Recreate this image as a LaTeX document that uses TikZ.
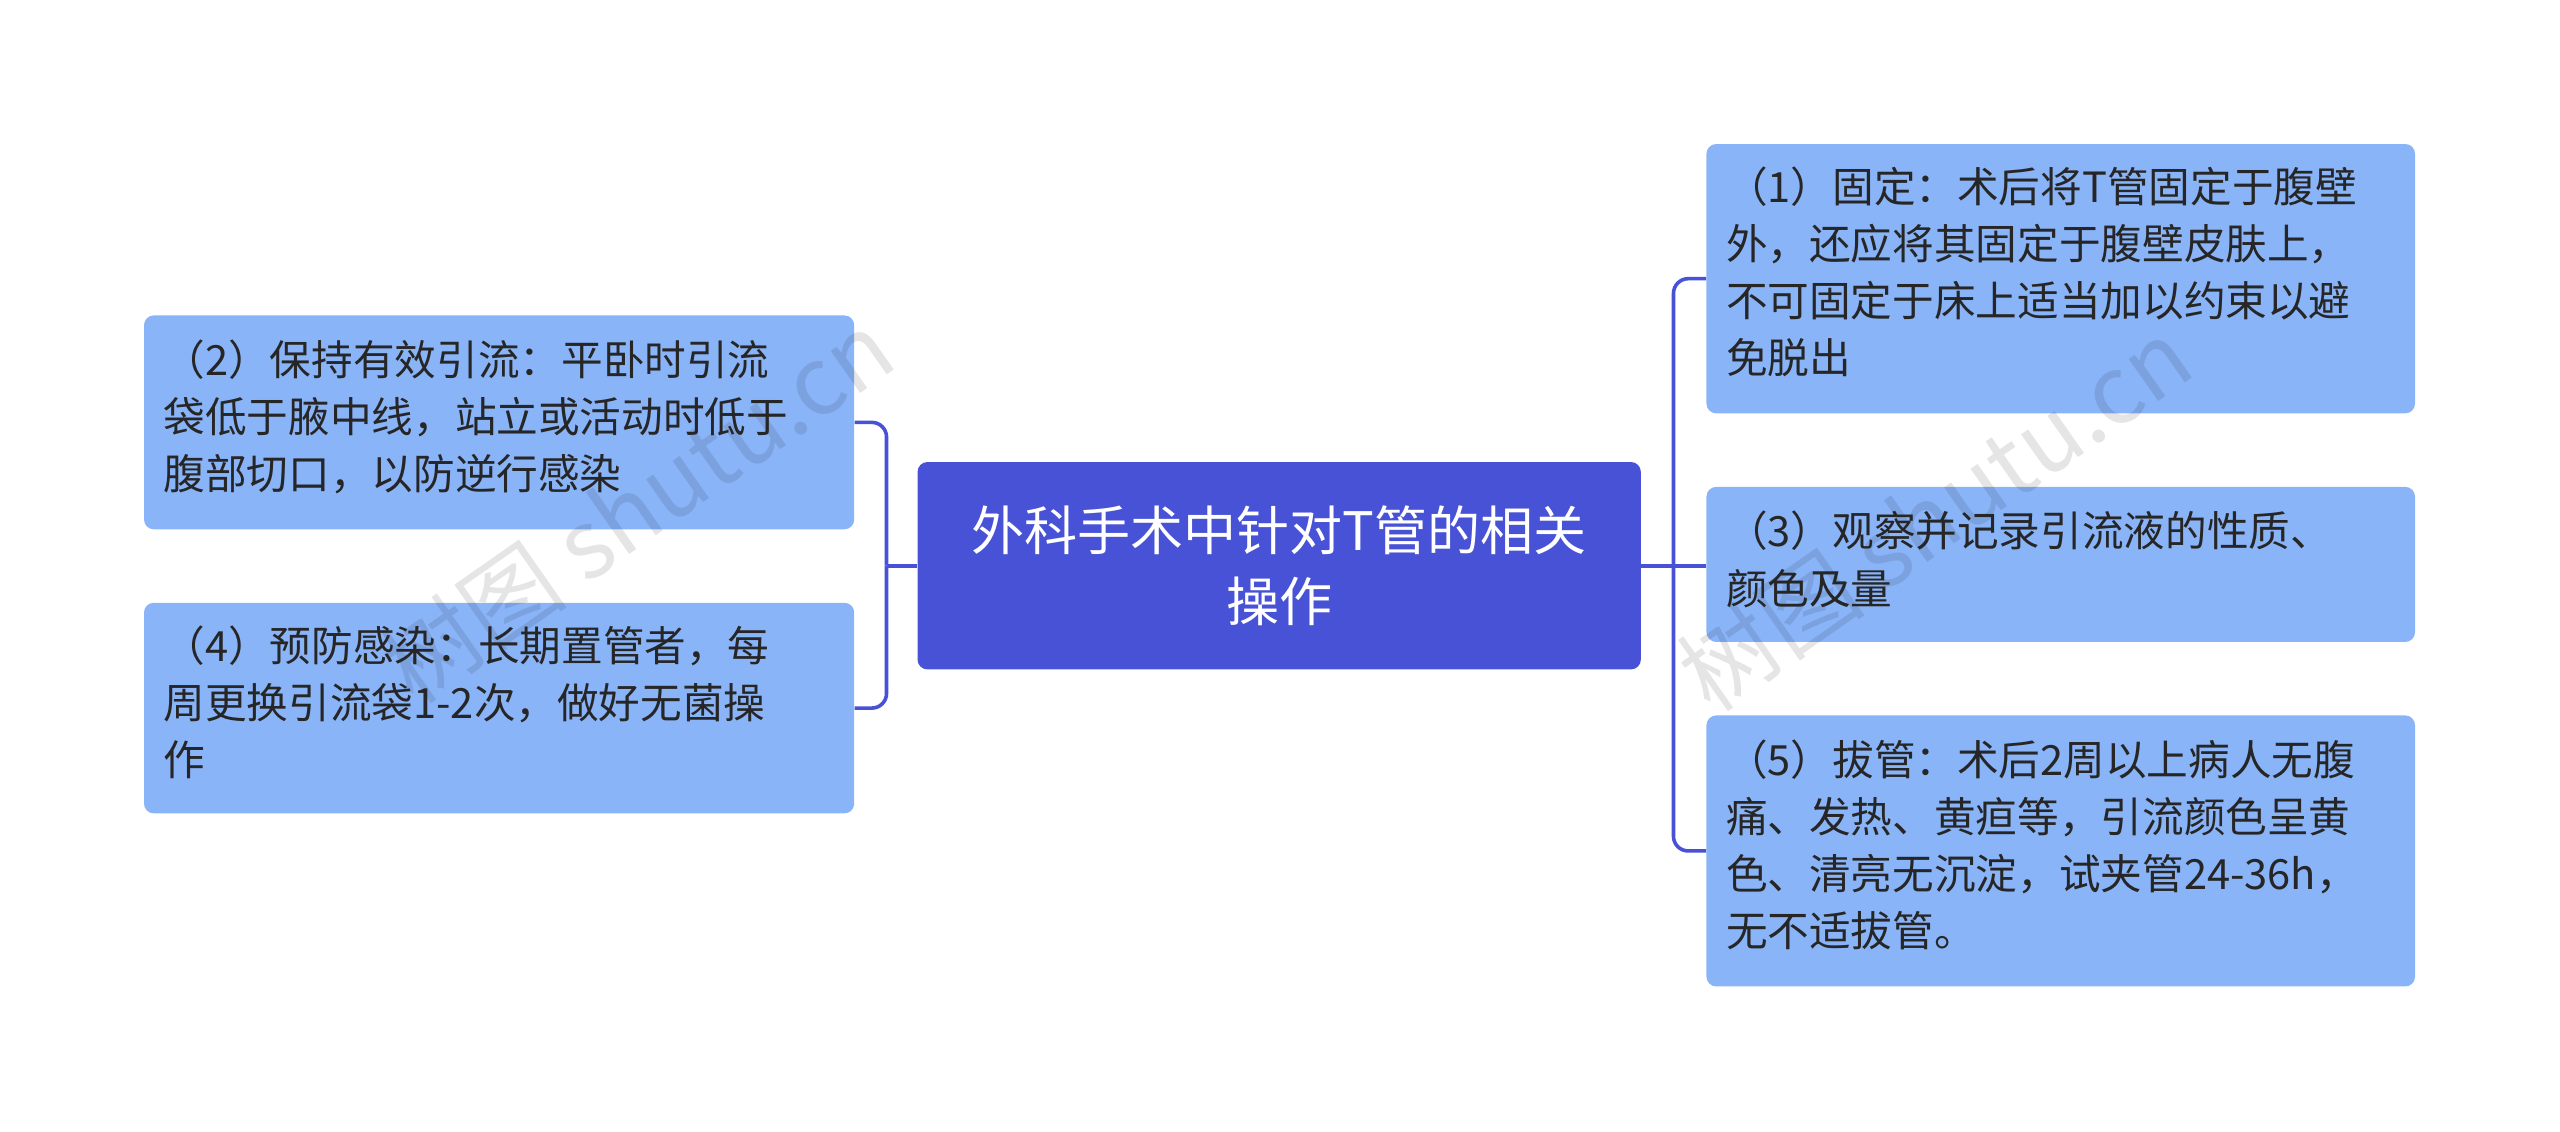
\documentclass[tikz,border=0pt]{standalone}
\usepackage{fontspec}
\setmainfont{Noto Sans CJK SC}
\newfontfamily\wmfont{Noto Sans CJK SC}
\begin{document}
\begin{tikzpicture}[x=1pt,y=-1pt,
  leaf/.style={draw=none,fill=leafc,rounded corners=6pt,anchor=north west,inner sep=0pt},
  ltext/.style={anchor=north west,align=left,font=\fontsize{25.5}{35}\selectfont,text=black!85,inner sep=0pt,text width=428pt},
  conn/.style={draw=mainc,line width=2.2pt,rounded corners=9pt}]
\definecolor{mainc}{HTML}{4752D6}
\definecolor{leafc}{HTML}{8AB4F8}
\useasboundingbox (0,0) rectangle (1568,693);
\node[leaf,minimum width=435pt,minimum height=131pt] (l1) at (88,193) {};
\node[leaf,minimum width=435pt,minimum height=129pt] (l2) at (88,369) {};
\node[leaf,minimum width=434pt,minimum height=165pt] (r1) at (1045,88) {};
\node[leaf,minimum width=434pt,minimum height=95pt] (r2) at (1045,298) {};
\node[leaf,minimum width=434pt,minimum height=166pt] (r3) at (1045,438) {};
\node[opacity=0.10,rotate=35,font=\wmfont\fontsize{58}{58}\selectfont,text=black] (w1) at (390,310) {树图 shutu.cn};
\node[opacity=0.10,rotate=35,font=\wmfont\fontsize{58}{58}\selectfont,text=black] (w2) at (1185,315) {树图 shutu.cn};
\node[fill=mainc,rounded corners=6pt,minimum width=443pt,minimum height=127pt,text=white,align=center,
  font=\fontsize{32.5}{44}\selectfont] (c) at (783.5,346.5) {外科手术中针对T管的相关\\操作};
\node[ltext] (l1t) at (100,208) {（2）保持有效引流：平卧时引流\\袋低于腋中线，站立或活动时低于\\腹部切口，以防逆行感染};
\node[ltext] (l2t) at (100,383) {（4）预防感染：长期置管者，每\\周更换引流袋1-2次，做好无菌操\\作};
\node[ltext] (r1t) at (1057,102) {（1）固定：术后将T管固定于腹壁\\外，还应将其固定于腹壁皮肤上，\\不可固定于床上适当加以约束以避\\免脱出};
\node[ltext] (r2t) at (1057,313) {（3）观察并记录引流液的性质、\\颜色及量};
\node[ltext] (r3t) at (1057,453) {（5）拔管：术后2周以上病人无腹\\痛、发热、黄疸等，引流颜色呈黄\\色、清亮无沉淀，试夹管24-36h，\\无不适拔管。};
\coordinate (lb) at (543,346.5);
\coordinate (rb) at (1025,346.5);
\draw[conn] (c.west) -- (lb);
\draw[conn] (lb) |- (l1.east);
\draw[conn] (lb) |- (l2.east);
\draw[conn] (c.east) -- (r2.west |- c.east);
\draw[conn] (rb) |- (r1.west);
\draw[conn] (rb) |- (r3.west);
\end{tikzpicture}
\end{document}
